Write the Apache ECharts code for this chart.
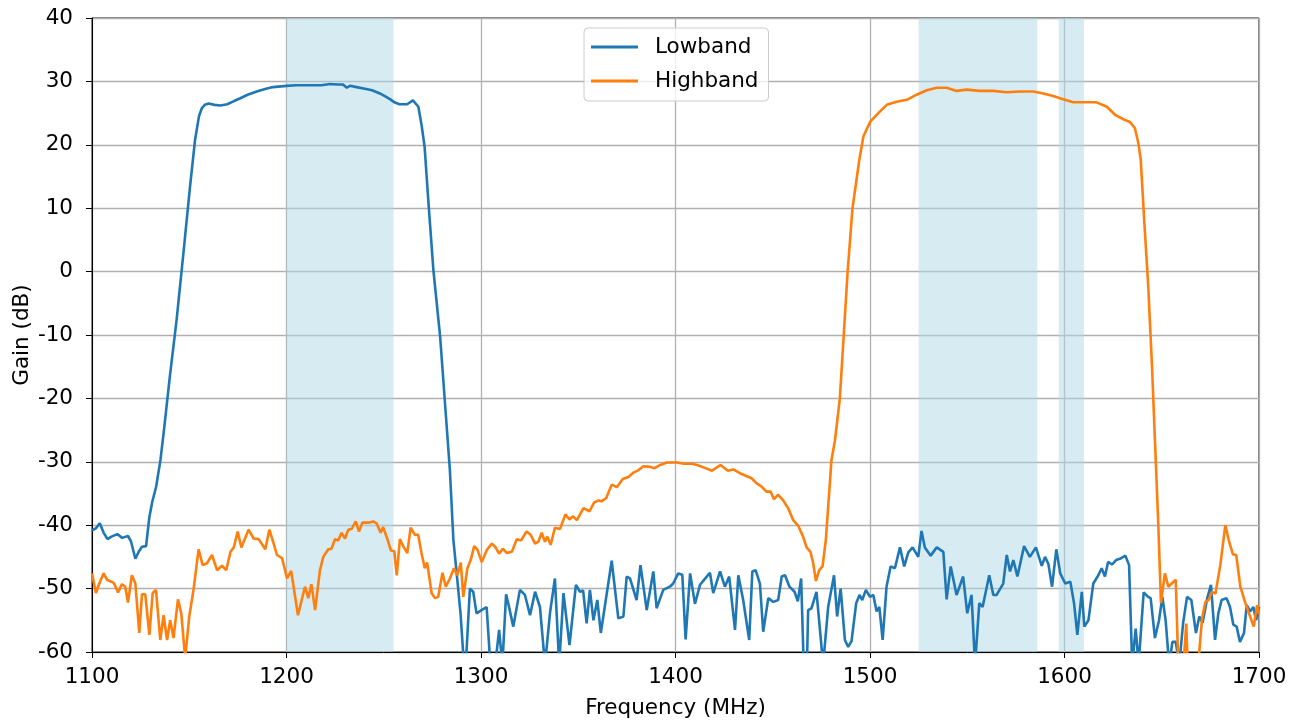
<!DOCTYPE html>
<html><head><meta charset="utf-8">
<script src="https://cdn.jsdelivr.net/npm/echarts@6/dist/echarts.min.js"></script>
<style>html,body{margin:0;padding:0;background:#fff}#c{width:1298px;height:724px}</style>
</head><body><div id="c"></div>
<script>
const lowFreq = [1100,1102,1104,1106,1108,1110,1113,1115.5,1118.5,1120,1122.3,1124,1125.7,1127.8,1129.5,1131,1133,1135.2,1137,1140,1143.5,1147,1150.4,1153,1155,1156.5,1158,1160,1163,1166,1169.5,1173,1176,1180,1184.7,1189,1193,1200,1205,1210,1215,1218,1222.4,1226,1229,1231,1232.6,1236,1241,1244,1248,1251,1253.2,1255.5,1258,1262,1265,1267.8,1269.5,1271,1273,1275.5,1279,1281.5,1284,1285.8,1287.5,1289.5,1291,1292,1294.3,1296,1297.7,1300.3,1302.9,1304.6,1307,1309.3,1311,1312.9,1314.5,1316.6,1320,1322.6,1325.2,1327.8,1330.3,1332.9,1335.5,1338,1340.2,1342.4,1345.5,1348.8,1350.9,1352.5,1354.3,1356,1357.8,1359.8,1361.6,1367.2,1370.6,1373.2,1374.9,1376.6,1380,1382,1385.2,1388.6,1390.3,1393.7,1397.1,1398.8,1401.4,1403.5,1405.2,1407.5,1410,1412.6,1415,1417.7,1419.4,1422.9,1425.4,1427.6,1430.6,1432.3,1434.8,1437.9,1439.5,1441.2,1443.4,1445.1,1447.7,1450.3,1452.8,1454.6,1456.3,1458.6,1461.2,1462.9,1464.6,1466,1467.5,1468.2,1469.9,1472.5,1475.9,1478.5,1481.5,1483.1,1484.9,1487.1,1488.8,1490.5,1492.9,1494.6,1496,1497.9,1500,1501.7,1503.4,1504.8,1506.5,1508.5,1510.6,1512.8,1515.4,1517.6,1519.7,1521.9,1524.8,1526.5,1528.2,1531.2,1534.3,1537.7,1539.4,1541.5,1544.5,1547.9,1550,1552.2,1554,1556.2,1557.9,1561.3,1563.4,1565.1,1568.5,1570.3,1572,1573.7,1575.8,1579.2,1582.2,1585.3,1588.3,1590,1591.7,1593.6,1595.8,1597.8,1600.4,1603,1604.9,1606.6,1608.9,1610.2,1612.3,1614.8,1617.4,1619.1,1620.8,1622.4,1624.5,1626.5,1628.5,1631.3,1633.2,1634.8,1636.6,1638.1,1640.7,1643,1644.3,1646.5,1648.6,1650.3,1652,1653.8,1655.5,1657.2,1659,1661,1663,1665.2,1667.6,1669.3,1671,1673.4,1675.3,1677.4,1679.1,1680.8,1683.3,1685.1,1686.8,1688.5,1690.2,1692.3,1693.7,1695.4,1697.1,1698.5,1700];
const lowGain = [-40.8,-40.5,-39.7,-41.2,-42.2,-41.8,-41.4,-42.0,-41.7,-42.5,-45.3,-44.2,-43.4,-43.3,-38.7,-36.3,-33.9,-29.7,-25.0,-16.6,-7.6,2.9,13.4,20.8,24.5,25.8,26.3,26.5,26.3,26.2,26.4,26.9,27.3,27.9,28.4,28.8,29.1,29.3,29.4,29.4,29.4,29.4,29.6,29.5,29.5,29.0,29.3,29.1,28.8,28.6,28.1,27.6,27.2,26.7,26.4,26.4,27.0,26.0,23.0,19.7,10.8,0.3,-10.3,-20.8,-31.3,-42.3,-47.6,-54,-61,-63,-50,-50.5,-53.9,-53.4,-52.9,-61,-63,-56.5,-62,-50.9,-53,-56,-50.2,-51,-54.2,-50.5,-52.9,-62,-53.8,-48.4,-62,-50.7,-58.9,-49.4,-50.5,-50.3,-55.5,-50.2,-55,-51.8,-57,-45.6,-54.7,-54.4,-48.1,-48.4,-51.8,-46.3,-53.4,-47.3,-53.1,-50.2,-49.7,-49.2,-47.6,-47.8,-58,-47.6,-52.4,-49.4,-48.5,-47.5,-50.7,-47.3,-49.7,-48.1,-56.5,-47.9,-51.8,-58.1,-47.3,-47.1,-49.2,-56.8,-51.5,-52.1,-51.8,-48.1,-47.9,-49.7,-50.5,-52,-48.4,-63,-63,-53.4,-53.1,-50.5,-62,-52.9,-47.9,-54.4,-50,-58.1,-59.2,-58.3,-52.3,-51,-51.8,-50.2,-51.3,-51,-53.6,-52.9,-58.1,-49.7,-46.5,-46.8,-43.5,-46.5,-44.3,-43.5,-45,-40.9,-43.5,-44.8,-43.5,-44.2,-51.7,-46.5,-51,-48.1,-53.9,-51,-62,-52.3,-52.9,-47.9,-51,-51,-49.2,-44.7,-47.3,-45.5,-48.1,-43.3,-45,-43.5,-46.4,-45,-46.1,-49.7,-43.8,-47.6,-49.2,-48.9,-52.3,-57.3,-50.5,-56,-55,-49.2,-47.9,-46.8,-48.1,-45.8,-46.2,-45.5,-45.3,-44.8,-46.3,-62,-56.3,-62,-50.6,-51.3,-51.5,-57.8,-55,-51.3,-55,-62,-58.4,-58.4,-62,-55.4,-51.3,-51.8,-57,-54.4,-55.4,-51.5,-49.4,-58.1,-53.9,-51.8,-51.5,-52.9,-55.7,-56,-58.4,-57,-52.6,-53.6,-52.9,-55,-52.9];
const highFreq = [1100,1102,1104,1106,1107.7,1111.2,1113.4,1115.4,1117.1,1118.5,1120.5,1122.3,1124.3,1125.7,1127.4,1129.5,1131.2,1132.9,1135.1,1136.8,1138.6,1140.2,1141.9,1144.2,1145.9,1147.9,1150,1152.2,1154.8,1156.9,1159.1,1161.7,1164.3,1166.8,1169,1171.2,1172.9,1174.9,1176.8,1180.5,1183.1,1185.7,1189.1,1191.2,1193.4,1195.1,1197.7,1200.3,1202.4,1205.9,1209.5,1211.2,1212.8,1214.7,1217.2,1218.9,1221.5,1223.2,1224.9,1226.6,1228.3,1230.1,1231.8,1233.5,1235.6,1237.3,1239,1242.1,1244.6,1246.3,1248.4,1249.7,1252,1253.7,1255.4,1256.7,1258.3,1260,1262.1,1263.8,1266,1267.7,1269.4,1271.1,1272.3,1274.6,1276.3,1278,1280.2,1281.9,1284,1286.1,1287.8,1289.6,1290.9,1293,1294.7,1296.5,1298.2,1300.4,1303,1305.6,1307.3,1309.3,1311.2,1313.3,1315.9,1318.4,1320.6,1323.4,1325.5,1327.8,1329.5,1331.2,1332.9,1334.1,1335.8,1338,1340.6,1343.4,1345.5,1347.2,1349.3,1352.7,1355.8,1358.2,1360.4,1362.1,1364.4,1367.2,1369.8,1372.9,1375.8,1378.4,1381,1383.5,1387,1389.1,1392.2,1395.6,1400.8,1404.2,1408.5,1411.1,1415.4,1418.8,1423.1,1427,1429.7,1433.1,1439.1,1441.7,1444.2,1446.8,1448.9,1450.6,1452.8,1455.4,1457.9,1460.5,1463.1,1465.6,1467.4,1469.4,1470.8,1472.2,1473.9,1475.6,1477.3,1478.5,1480.2,1482,1484.5,1486.5,1488.5,1491,1494.5,1496.6,1500,1504.3,1508.6,1513.7,1518.9,1524,1529.2,1534.3,1539.4,1544.5,1549.7,1556.5,1563.4,1570.2,1577.1,1583.9,1589.1,1594.2,1599.3,1604.5,1611.3,1616.5,1621.8,1626.1,1630.4,1633.7,1636.2,1638,1639.2,1641,1643,1645,1646.5,1648.2,1649.6,1651.6,1653.4,1655.8,1657.2,1658.4,1661,1662.6,1663.3,1669,1670.7,1672.4,1674.1,1675.8,1677.6,1680.1,1682.7,1684.4,1686.6,1688.3,1690.4,1693,1695.2,1697.3,1699,1700];
const highGain = [-47.6,-50.7,-49,-47.6,-48.6,-49.1,-50.6,-49.3,-49.7,-52.2,-47.9,-49.2,-57,-50.9,-50.9,-57.3,-50.7,-50.2,-58.1,-54.2,-58.1,-55,-57.8,-51.7,-53.9,-61,-54.4,-50.2,-43.8,-46.3,-46,-44.7,-47.1,-46.4,-47.1,-44.2,-43.5,-41,-43.5,-40.7,-42.1,-42.2,-43.8,-40.7,-42.9,-44.7,-45.2,-48.4,-47.2,-54.2,-49.7,-51.5,-49.3,-53.4,-47.1,-45,-43.8,-43.7,-42.2,-42.4,-41.2,-42.1,-40.7,-40.6,-39.4,-41,-39.6,-39.6,-39.4,-39.7,-41.2,-40.3,-42.3,-44,-44.1,-47.9,-42.2,-43.3,-44.4,-40.4,-41.5,-41.5,-44.4,-46.8,-45.9,-50.7,-51.5,-51.3,-47.5,-49.7,-48.4,-46.8,-47.9,-45.9,-51.3,-46.8,-45.5,-43.3,-43.9,-45.8,-43.9,-42.9,-43.4,-44.5,-43.7,-44.4,-44.2,-42.2,-42.4,-41,-41.5,-42.9,-42.6,-41.2,-42.6,-41.8,-43.1,-40.4,-40.6,-38.3,-39.1,-38.6,-39.2,-37.3,-37.8,-36.4,-36.1,-36.2,-35.7,-33.6,-34,-32.7,-32.4,-31.7,-31.3,-30.7,-30.8,-31,-30.5,-30.1,-30.1,-30.3,-30.3,-30.5,-31,-31.4,-30.5,-31.4,-31.2,-31.8,-32.6,-33.4,-33.9,-34.7,-34.7,-35.9,-35.2,-36.1,-37.3,-39.2,-40.1,-41.8,-43.5,-44.2,-46,-48.8,-47.1,-46.5,-42.3,-37.1,-29.7,-26.6,-20,-10,0,10,17.6,21.3,23.6,25,26.3,26.8,27.1,27.9,28.6,29.0,29.0,28.5,28.7,28.5,28.5,28.3,28.4,28.4,28.1,27.7,27.2,26.7,26.7,26.7,26.0,24.7,24.0,23.6,22.6,20.2,17.6,8,-2,-15,-26.6,-39.7,-52.3,-47.6,-49.7,-49,-48.6,-61,-63,-55.5,-62,-61,-54.8,-52.1,-51.8,-50.5,-50.8,-46.3,-40,-42.3,-44.6,-44.7,-49.7,-52.3,-54.2,-56,-52.6,-54];
const bands = [[1200,1255],[1525,1586],[1597,1610]];
const xTicks = [1100,1200,1300,1400,1500,1600,1700];
const yTicks = [-60,-50,-40,-30,-20,-10,0,10,20,30,40];

const zip = (a,b) => a.map((v,i)=>[v,b[i]]);
const font = 'DejaVu Sans';
const fs = 21.5;
const chart = echarts.init(document.getElementById('c'), null, {renderer:'canvas'});
chart.setOption({
  animation:false,
  backgroundColor:'#ffffff',
  grid:{left:92,right:39,top:18,bottom:72,show:true,borderColor:'#000',borderWidth:1,backgroundColor:'transparent',
    containLabel:false,outerBoundsMode:'none'},
  legend:{
    data:[{name:'Lowband',icon:'rect'},{name:'Highband',icon:'rect'}], orient:'vertical', left:584, top:28,
    padding:[8,10,9,7], itemGap:12, itemWidth:47, itemHeight:3,
    backgroundColor:'rgba(255,255,255,0.8)', borderColor:'#cccccc', borderWidth:1, borderRadius:4,
    textStyle:{fontFamily:font,fontSize:fs,lineHeight:22,color:'#000',padding:[0,0,0,12]}
  },
  xAxis:{type:'value',min:xTicks[0],max:xTicks[xTicks.length-1],interval:100,
    name:'Frequency (MHz)',nameLocation:'middle',nameGap:45,nameMoveOverlap:false,
    nameTextStyle:{fontFamily:font,fontSize:fs,color:'#000'},
    axisLine:{show:true,onZero:false,lineStyle:{color:'#000',width:1}},
    axisTick:{show:true,length:6,lineStyle:{color:'#000'}},
    axisLabel:{fontFamily:font,fontSize:fs,color:'#000',margin:14,formatter:v=>String(v)},
    splitLine:{show:true,lineStyle:{color:'#b0b0b0',width:1.3}}},
  yAxis:{type:'value',min:yTicks[0],max:yTicks[yTicks.length-1],interval:10,
    name:'Gain (dB)',nameLocation:'middle',nameGap:59,nameMoveOverlap:false,
    nameTextStyle:{fontFamily:font,fontSize:fs,color:'#000'},
    axisLine:{show:true,onZero:false,lineStyle:{color:'#000',width:1}},
    axisTick:{show:true,length:6,lineStyle:{color:'#000'}},
    axisLabel:{fontFamily:font,fontSize:fs,color:'#000',margin:19,formatter:v=>String(v)},
    splitLine:{show:true,lineStyle:{color:'#b0b0b0',width:1.3}}},
  series:[
    {name:'bands',type:'line',data:[],z:1,silent:true,
     markArea:{silent:true,itemStyle:{color:'rgba(173,216,230,0.5)'},
       data:bands.map(b=>[{xAxis:b[0]},{xAxis:b[1]}])}},
    {name:'Lowband',type:'line',data:zip(lowFreq,lowGain),symbol:'none',z:3,clip:true,
     lineStyle:{color:'#1f77b4',width:2.6},itemStyle:{color:'#1f77b4'}},
    {name:'Highband',type:'line',data:zip(highFreq,highGain),symbol:'none',z:3,clip:true,
     lineStyle:{color:'#ff7f0e',width:2.6},itemStyle:{color:'#ff7f0e'}}
  ]
});
</script></body></html>
